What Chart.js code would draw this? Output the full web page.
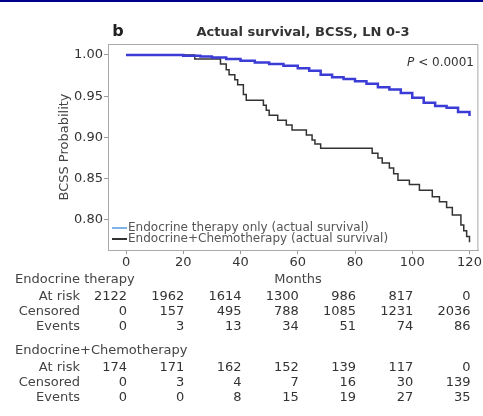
<!DOCTYPE html>
<html>
<head>
<meta charset="utf-8">
<script src="https://cdn.jsdelivr.net/npm/chart.js@4"></script>
<style>
  html, body { margin: 0; padding: 0; background: #fff; }
  #wrap { width: 483px; height: 416px; position: relative; }
</style>
</head>
<body>
<div id="wrap"><canvas id="km"></canvas></div>
<script>
// survival curves (months, probability)
const endoMonths = [0, 10, 20, 26, 30, 35, 40, 45, 50, 55, 60, 64, 68, 72, 76, 80, 84, 88, 92, 96, 100, 104, 108, 112, 116, 120];
const endoSurv = [1.000, 1.000, 0.999, 0.998, 0.997, 0.995, 0.993, 0.991, 0.989, 0.987, 0.984, 0.981, 0.976, 0.973, 0.971, 0.968, 0.965, 0.961, 0.958, 0.954, 0.948, 0.942, 0.938, 0.936, 0.931, 0.926];

const chemoMonths = [0, 24, 33, 35, 36, 38, 39, 41, 42, 48, 49, 50, 53, 56, 58, 63, 65, 66, 68, 86, 88, 89.5, 92, 93.5, 95, 99, 102.5, 107, 109.5, 112, 114, 117, 118, 119, 120];
const chemoSurv = [1.000, 0.995, 0.989, 0.982, 0.976, 0.970, 0.964, 0.952, 0.945, 0.939, 0.933, 0.927, 0.921, 0.915, 0.909, 0.903, 0.897, 0.892, 0.887, 0.881, 0.875, 0.869, 0.863, 0.856, 0.848, 0.843, 0.836, 0.828, 0.822, 0.815, 0.806, 0.794, 0.787, 0.780, 0.773];

const xTicks = [0, 20, 40, 60, 80, 100, 120];
const yTicks = [0.80, 0.85, 0.90, 0.95, 1.00];

// numbers at risk table
const rowLabels = ["At risk", "Censored", "Events"];
const endoAtRisk = [2122, 1962, 1614, 1300, 986, 817, 0];
const endoCensored = [0, 157, 495, 788, 1085, 1231, 2036];
const endoEvents = [0, 3, 13, 34, 51, 74, 86];
const chemoAtRisk = [174, 171, 162, 152, 139, 117, 0];
const chemoCensored = [0, 3, 4, 7, 16, 30, 139];
const chemoEvents = [0, 0, 8, 15, 19, 27, 35];

const FONT = "'DejaVu Sans', sans-serif";

function toPoints(xs, ys) {
  return xs.map((x, i) => ({ x: x, y: ys[i] }));
}

const extras = {
  id: "extras",
  beforeDraw(chart) {
    const ctx = chart.ctx;
    ctx.save();
    ctx.fillStyle = "#00008b";
    ctx.fillRect(0, 0, chart.width, 2);
    ctx.restore();
  },
  beforeDatasetsDraw(chart) {
    const { ctx, chartArea: a } = chart;
    ctx.save();
    ctx.strokeStyle = "#aaa";
    ctx.lineWidth = 1;
    ctx.strokeRect(a.left + 0.5, a.top + 0.5, a.right - a.left - 1, a.bottom - a.top);
    ctx.restore();
  },
  afterDraw(chart) {
    const { ctx, chartArea: a } = chart;
    const xs = chart.scales.x;
    ctx.save();
    ctx.textBaseline = "middle";

    // panel letter and title
    ctx.fillStyle = "#222";
    ctx.font = "bold 16px " + FONT;
    ctx.textAlign = "center";
    ctx.fillText("b", 118, 32);
    ctx.font = "bold 13px " + FONT;
    ctx.fillStyle = "#333";
    ctx.fillText("Actual survival, BCSS, LN 0-3", 303, 33);

    // p value
    ctx.textAlign = "right";
    ctx.font = "12px " + FONT;
    const rest = " < 0.0001";
    const rw = ctx.measureText(rest).width;
    ctx.fillText(rest, 474, 63);
    ctx.font = "italic 12px " + FONT;
    ctx.fillText("P", 474 - rw, 63);

    // legend
    const legend = [
      { text: "Endocrine therapy only (actual survival)", color: "#7fb2e5", y: 228 },
      { text: "Endocrine+Chemotherapy (actual survival)", color: "#333", y: 239 }
    ];
    ctx.font = "12px " + FONT;
    ctx.textAlign = "left";
    legend.forEach(item => {
      ctx.strokeStyle = item.color;
      ctx.lineWidth = 2;
      ctx.beginPath();
      ctx.moveTo(a.left + 4, item.y);
      ctx.lineTo(a.left + 19, item.y);
      ctx.stroke();
      ctx.fillStyle = "#555";
      ctx.fillText(item.text, a.left + 20, item.y);
    });

    // x axis title
    ctx.fillStyle = "#444";
    ctx.font = "13px " + FONT;
    ctx.textAlign = "center";
    ctx.fillText("Months", 298, 280);

    // risk table
    const groups = [
      { name: "Endocrine therapy", y: 280, rows: [endoAtRisk, endoCensored, endoEvents] },
      { name: "Endocrine+Chemotherapy", y: 351, rows: [chemoAtRisk, chemoCensored, chemoEvents] }
    ];
    groups.forEach(g => {
      ctx.textAlign = "left";
      ctx.fillStyle = "#444";
      ctx.fillText(g.name, 15, g.y);
      g.rows.forEach((vals, r) => {
        const y = g.y + 17 + r * 15;
        ctx.textAlign = "right";
        ctx.fillStyle = "#444";
        ctx.fillText(rowLabels[r], 80, y);
        ctx.fillStyle = "#333";
        vals.forEach((v, i) => {
          ctx.fillText(String(v), xs.getPixelForValue(xTicks[i]) + 1, y);
        });
      });
    });
    ctx.restore();
  }
};

new Chart(document.getElementById("km"), {
  type: "line",
  data: {
    datasets: [
      {
        label: "Endocrine therapy only (actual survival)",
        data: toPoints(endoMonths, endoSurv),
        borderColor: "#3b3bd6",
        borderWidth: 2.5,
        stepped: "before",
        pointRadius: 0,
        fill: false
      },
      {
        label: "Endocrine+Chemotherapy (actual survival)",
        data: toPoints(chemoMonths, chemoSurv),
        borderColor: "#333",
        borderWidth: 1.5,
        stepped: "before",
        pointRadius: 0,
        fill: false
      }
    ]
  },
  options: {
    responsive: true,
    maintainAspectRatio: false,
    animation: false,
    layout: { padding: { top: 44, right: 4, left: 53, bottom: 0 } },
    plugins: {
      legend: { display: false },
      tooltip: { enabled: false }
    },
    scales: {
      x: {
        type: "linear",
        min: -6.3,
        max: 123.1,
        afterBuildTicks: s => { s.ticks = xTicks.map(v => ({ value: v })); },
        afterFit: s => { s.height = 166; },
        ticks: { color: "#333", font: { family: FONT, size: 13 }, padding: 1, maxRotation: 0 },
        grid: { display: true, drawOnChartArea: false, drawTicks: true, tickLength: 4, color: "#999" },
        border: { display: true, color: "#aaa" }
      },
      y: {
        min: 0.7636,
        max: 1.0133,
        afterBuildTicks: s => { s.ticks = yTicks.map(v => ({ value: v })); },
        afterFit: s => { s.width = 55; },
        ticks: { color: "#333", font: { family: FONT, size: 13 }, padding: 1, callback: v => v.toFixed(2) },
        grid: { display: true, drawOnChartArea: false, drawTicks: true, tickLength: 4, color: "#999" },
        border: { display: true, color: "#aaa" },
        title: { display: true, text: "BCSS Probability", color: "#444", font: { family: FONT, size: 13 }, padding: { top: 4, bottom: 0 } }
      }
    }
  },
  plugins: [extras]
});
</script>
</body>
</html>
